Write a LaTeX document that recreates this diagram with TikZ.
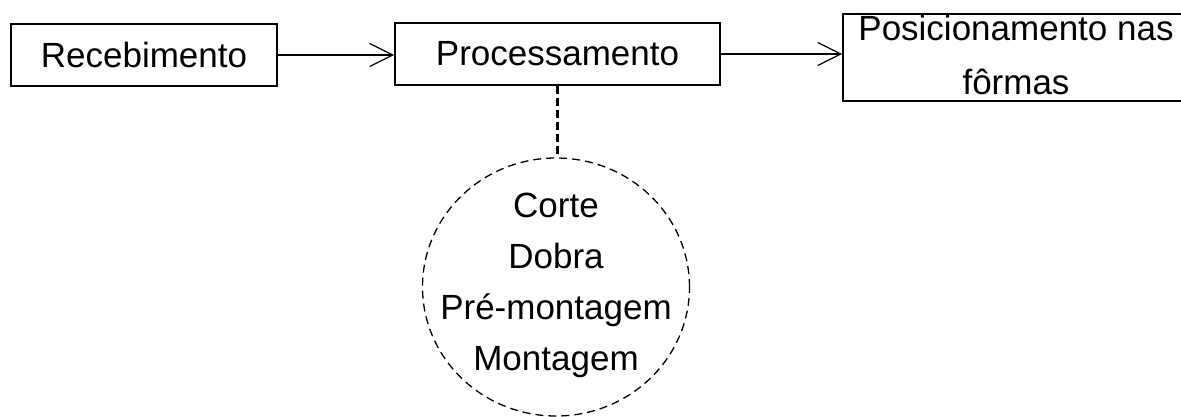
\documentclass[tikz,border=0pt]{standalone}
\usepackage{fontspec}
\setmainfont{Liberation Sans}
\usetikzlibrary{arrows.meta,shapes.geometric}

\begin{document}
\begin{tikzpicture}[x=1pt, y=-1pt,
		every node/.style={font=\fontsize{35}{51}\selectfont, inner sep=0pt},
		etapa/.style={draw, line width=1.6pt, minimum height=62pt},
		fluxo/.style={line width=1.3pt, -{Straight Barb[length=23pt, width=23pt, line width=1.3pt]}},
		subetapas/.style={ellipse, draw, line width=1.3pt, dash pattern=on 8pt off 5pt, minimum width=267pt, minimum height=258pt}]
		% Area of the picture
		\clip (0,0) rectangle (1181,417);
		
		% Main steps
		\node[etapa, minimum width=266pt] (rec) at (144,55) {Recebimento};
		\node[etapa, minimum width=325pt] (proc) at (557.5,54) {Processamento};
		\node[etapa, minimum width=346pt, minimum height=87pt] (pos) at (1016,57.5) {};
		\node[align=center, font=\fontsize{35}{54}\selectfont] (postxt) at ([yshift=3pt]pos.center) {Posicionamento nas\\fôrmas};
		
		% Sub-steps of the processing
		\node[subetapas] (sub) at (556,287) {};
		\node[align=center] (lista) at ([yshift=2pt]sub.center) {Corte\\Dobra\\Pré-montagem\\Montagem};
		
		% Connect the steps
		\draw[fluxo] (rec.east) -- (rec.east -| proc.west);
		\draw[fluxo] (proc.east) -- (proc.east -| pos.west);
		\draw[line width=3pt, dash pattern=on 8pt off 4pt] (proc.south) -- (proc.south |- sub.north);
	\end{tikzpicture}
\end{document}
